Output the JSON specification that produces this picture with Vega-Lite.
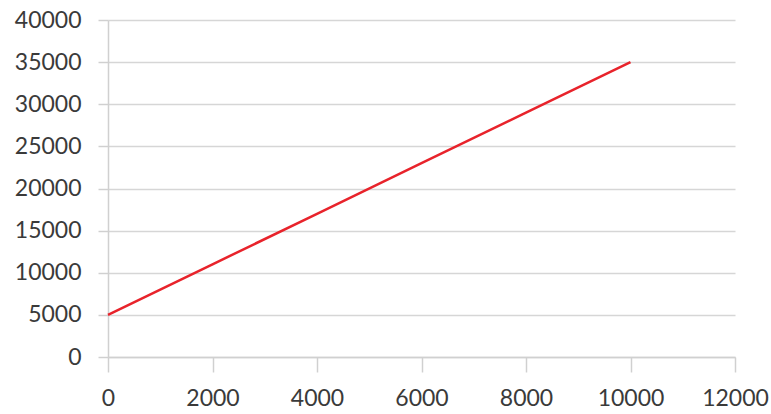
{
  "$schema": "https://vega.github.io/schema/vega-lite/v6.json",
  "width": 627,
  "height": 337,
  "autosize": {"type": "none"},
  "padding": {"left": 108, "top": 20, "right": 36, "bottom": 57},
  "background": "white",
  "config": {
    "view": {"stroke": null},
    "font": "Lato",
    "axis": {
      "labelFont": "Lato",
      "labelFontSize": 23,
      "labelColor": "#3a3a3a",
      "domainColor": "#d0d0d0",
      "domainWidth": 1.5,
      "tickColor": "#d0d0d0",
      "tickWidth": 1.5,
      "gridColor": "#d6d6d6",
      "gridWidth": 1.5,
      "title": null
    }
  },
  "data": {
    "values": [
      {"x": 0, "y": 5000},
      {"x": 2000, "y": 11000},
      {"x": 4000, "y": 17000},
      {"x": 6000, "y": 23000},
      {"x": 8000, "y": 29000},
      {"x": 10000, "y": 35000}
    ]
  },
  "mark": {"type": "line", "color": "#e8232b", "strokeWidth": 2.5},
  "encoding": {
    "x": {
      "field": "x",
      "type": "quantitative",
      "scale": {"domain": [0, 12000], "nice": false},
      "axis": {"values": [0, 2000, 4000, 6000, 8000, 10000, 12000], "grid": false, "tickSize": 15, "labelPadding": 15, "format": "d", "labelFlush": false}
    },
    "y": {
      "field": "y",
      "type": "quantitative",
      "scale": {"domain": [0, 40000], "nice": false},
      "axis": {"values": [0, 5000, 10000, 15000, 20000, 25000, 30000, 35000, 40000], "grid": true, "tickSize": 10, "labelPadding": 17, "format": "d"}
    }
  }
}
